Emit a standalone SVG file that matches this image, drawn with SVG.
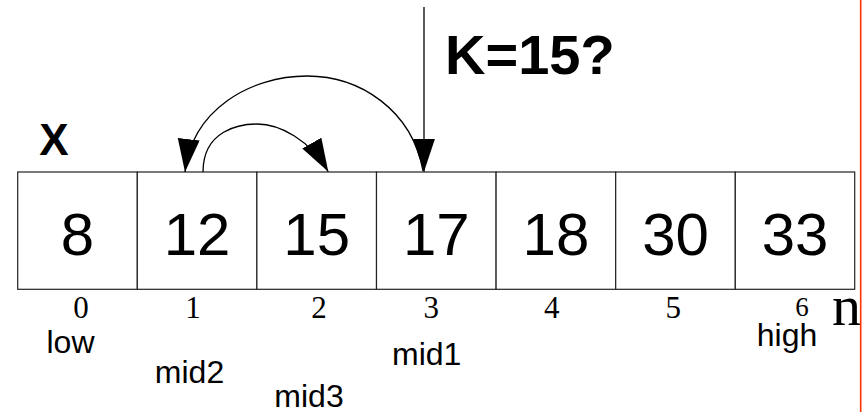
<svg xmlns="http://www.w3.org/2000/svg" width="866" height="414" viewBox="0 0 866 414">
<style>
.cell{fill:#fff;stroke:#222;stroke-width:1.2}
.val{font-family:"Liberation Sans",Arial,sans-serif;font-size:60px;fill:#000;text-anchor:middle}
.idx{font-family:"Liberation Serif","Times New Roman",serif;font-size:31px;fill:#000;text-anchor:middle}
.lbl{font-family:"Liberation Sans",Arial,sans-serif;font-size:32px;fill:#000;text-anchor:middle}
.bold{font-family:"Liberation Sans",Arial,sans-serif;font-weight:bold;fill:#000}
.conn{fill:none;stroke:#000;stroke-width:1.3}
</style>
<defs>
<marker id="ah" markerUnits="userSpaceOnUse" markerWidth="34" markerHeight="24" refX="33" refY="11" orient="auto">
<path d="M0,0 L33,11 L0,22 Z" fill="#000"/>
</marker>
</defs>
<rect width="866" height="414" fill="#fff"/>
<g id="array">
<g id="cell0"><rect class="cell" x="17.7" y="172" width="119.6" height="117.3"/><text class="val" x="77.5" y="254.5">8</text><text class="idx" x="81" y="317.5">0</text></g>
<g id="cell1"><rect class="cell" x="137.3" y="172" width="119.6" height="117.3"/><text class="val" x="197.1" y="254.5">12</text><text class="idx" x="193" y="317.5">1</text></g>
<g id="cell2"><rect class="cell" x="256.9" y="172" width="119.6" height="117.3"/><text class="val" x="316.7" y="254.5">15</text><text class="idx" x="319" y="317.5">2</text></g>
<g id="cell3"><rect class="cell" x="376.5" y="172" width="119.6" height="117.3"/><text class="val" x="436.3" y="254.5">17</text><text class="idx" x="431.3" y="317.5">3</text></g>
<g id="cell4"><rect class="cell" x="496.1" y="172" width="119.6" height="117.3"/><text class="val" x="555.9" y="254.5">18</text><text class="idx" x="551.7" y="317.5">4</text></g>
<g id="cell5"><rect class="cell" x="615.7" y="172" width="119.6" height="117.3"/><text class="val" x="675.5" y="254.5">30</text><text class="idx" x="673.3" y="317.5">5</text></g>
<g id="cell6"><rect class="cell" x="735.3" y="172" width="119.4" height="117.3"/><text class="val" x="795" y="254.5">33</text><text class="idx" x="802" y="316" style="font-size:27px">6</text></g>
</g>
<g id="labels">
<text id="X" class="bold" x="54" y="155" style="font-size:44px;text-anchor:middle">X</text>
<text id="K" class="bold" x="445" y="74" style="font-size:56px">K=15?</text>
<text id="low" class="lbl" x="70.5" y="353">low</text>
<text id="mid2" class="lbl" x="189.5" y="382.5">mid2</text>
<text id="mid3" class="lbl" x="309" y="407">mid3</text>
<text id="mid1" class="lbl" x="426.7" y="365">mid1</text>
<text id="high" class="lbl" x="787" y="346">high</text>
<text id="n" x="832" y="325" style="font-family:'Liberation Serif','Times New Roman',serif;font-size:58px;fill:#000">n</text>
</g>
<g id="connectors">
<line class="conn" x1="424" y1="7" x2="424" y2="171.7" marker-end="url(#ah)"/>
<path class="conn" d="M423 171 C412 110 360 76 307 76 C250 76 192 110 185 172" marker-end="url(#ah)"/>
<path class="conn" d="M203 172 C203 130 240 124 257 124 C280 124 310 140 328.3 171.7" marker-end="url(#ah)"/>
</g>
<line id="edge" x1="860.7" y1="0" x2="860.7" y2="412" stroke="#ff3300" stroke-width="1.6"/>
</svg>
